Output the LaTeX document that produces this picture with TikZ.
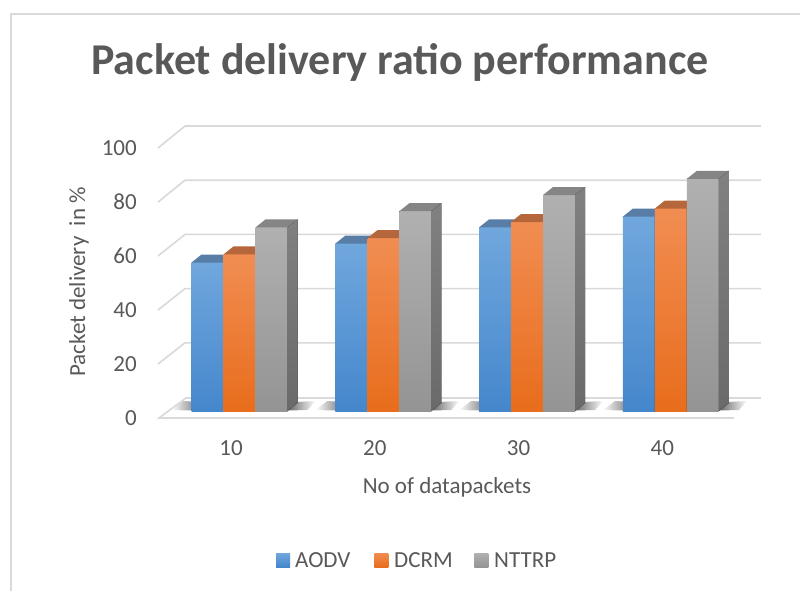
\documentclass[tikz,border=0pt]{standalone}
\usepackage{fontspec}
\setmainfont{Carlito}
\definecolor{txt}{HTML}{595959}
\definecolor{gridc}{HTML}{D9D9D9}
\definecolor{frame}{HTML}{D9D9D9}
\definecolor{blueT}{HTML}{70A7DD}
\definecolor{blueB}{HTML}{4587CC}
\definecolor{blueTop}{HTML}{587DA6}
\definecolor{blueSide}{HTML}{3F6E9E}
\definecolor{orT}{HTML}{F18D52}
\definecolor{orB}{HTML}{E86D1C}
\definecolor{orTop}{HTML}{B5673B}
\definecolor{orSide}{HTML}{A9521A}
\definecolor{grT}{HTML}{B0B0B0}
\definecolor{grB}{HTML}{949494}
\definecolor{grTop}{HTML}{858585}
\definecolor{grSide}{HTML}{6A6A6A}

% one 3-D column: left x, value, front top/bottom colours, top colour, side colour
\newcommand\drawcolumn[6]{%
  \pgfmathsetmacro\bx{#1}%
  \pgfmathsetmacro\by{411-2.7*#2}%
  \fill[top color=#3,bottom color=#4] (\bx,\by) rectangle (\bx+32,411);
  \fill[#5] (\bx,\by) -- (\bx+10,\by-8) -- (\bx+42,\by-8) -- (\bx+32,\by) -- cycle;
  \fill[top color=#6!85!white,bottom color=#6] (\bx+32,\by) -- (\bx+42,\by-8) -- (\bx+42,403) -- (\bx+32,411) -- cycle;
}

\begin{document}
\begin{tikzpicture}[x=1pt,y=-1pt,
  lbl/.style={font=\fontsize{23}{27}\selectfont,text=txt,inner sep=0pt},
  gridline/.style={draw=gridc,line width=1.6pt},
  swatch/.style={minimum size=14pt,inner sep=0pt}]
\useasboundingbox (0,0) rectangle (800,590);
\fill[white] (0,0) rectangle (800,590);

% chart frame (runs past the right and bottom edges)
\draw[frame,line width=2pt] (10.5,810) -- (10.5,13.5) -- (820,13.5);

% title
\node[font=\bfseries\fontsize{44}{50}\selectfont,text=txt,inner sep=0pt] (title) at (400,62) {Packet delivery ratio performance};

% back-wall gridlines with their side diagonals
\foreach \v in {20,40,60,80,100} {
  \draw[gridline] (158,418-2.7*\v) -- (185,397-2.71*\v) -- (761,397-2.71*\v);
}
% floor plate
\fill[white] (159,418) -- (734,418) -- (761,398) -- (186,398) -- cycle;
\draw[gridline] (734,418) -- (159,418) -- (186,398) -- (761,398);

% tick labels
\foreach \v in {0,20,...,100} {
  \node[lbl,anchor=east] (tick\v) at (137,418-2.7*\v) {\v};
}

% columns with their soft floor shadows
\foreach \g/\va/\vb/\vc in {0/55/58/68,1/62/64/74,2/68/70/80,3/72/75/86} {
  \pgfmathsetmacro\xa{191.5+143.8*\g}
  \shade[left color=white,right color=black!55] (\xa-20,410) -- (\xa,410.5) -- (\xa+8,402) -- (\xa-8,401) -- cycle;
  \shade[left color=black!60,right color=white] (\xa+96,410.5) -- (\xa+116,410) -- (\xa+124,401) -- (\xa+104,402) -- cycle;
  \drawcolumn{\xa}{\va}{blueT}{blueB}{blueTop}{blueSide}
  \drawcolumn{\xa+32}{\vb}{orT}{orB}{orTop}{orSide}
  \drawcolumn{\xa+64}{\vc}{grT}{grB}{grTop}{grSide}
}

% category labels
\foreach \c/\t in {0/10,1/20,2/30,3/40} {
  \node[lbl] (cat\t) at (231+143.75*\c,448) {\t};
}

% axis titles
\node[lbl] (xtitle) at (447,487) {No of datapackets};
\node[lbl,rotate=90] (ytitle) at (79,282) {Packet delivery\ \ in \%};

% legend
\node[swatch,top color=blueT,bottom color=blueB] (swA) at (283,560) {};
\node[lbl,anchor=west] (legA) at (295,560.5) {AODV};
\node[swatch,top color=orT,bottom color=orB] (swD) at (381.3,560) {};
\node[lbl,anchor=west] (legD) at (394,560.5) {DCRM};
\node[swatch,top color=grT,bottom color=grB] (swN) at (481.3,560) {};
\node[lbl,anchor=west] (legN) at (494,560.5) {NTTRP};
\end{tikzpicture}
\end{document}
